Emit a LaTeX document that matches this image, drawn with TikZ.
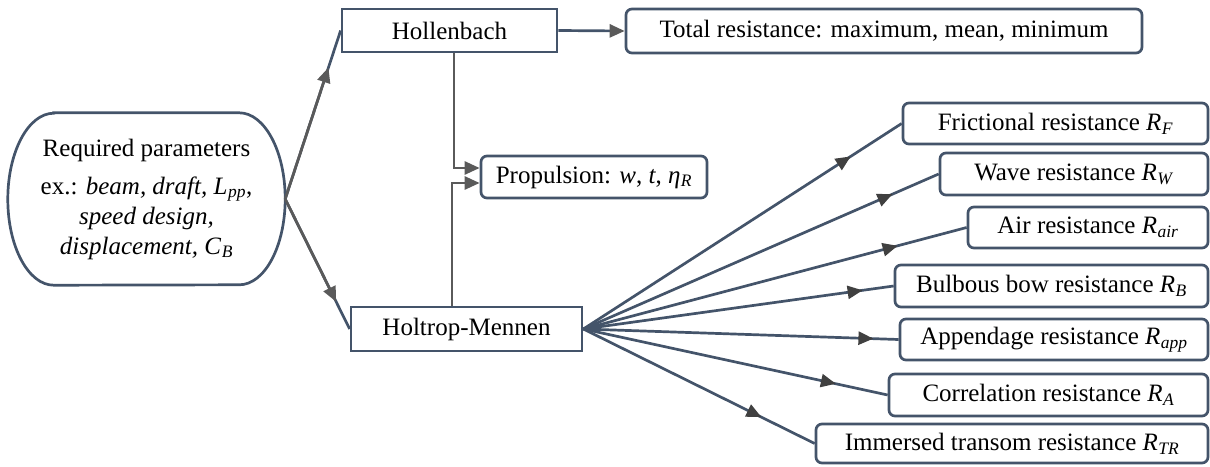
\documentclass[tikz,border=0pt]{standalone}
\usepackage{fontspec}
\setmainfont{Liberation Serif}
\usetikzlibrary{arrows.meta,decorations.markings,calc}
\definecolor{slate}{HTML}{44546A}
\definecolor{garrow}{HTML}{5A5A5A}
\definecolor{darrow}{HTML}{404040}
\newcommand{\mv}[2]{\textit{#1}\kern0.5pt\textsubscript{\textit{#2}}}
\begin{document}
\begin{tikzpicture}[x=1pt,y=-1pt,
 txt/.style={font=\fontsize{25}{30}\selectfont, inner sep=0pt, text=black},
 sharpbox/.style={txt, draw=slate, line width=2.7pt},
 rbox/.style={sharpbox, rounded corners=6pt},
 conn/.style={draw=slate, line width=2.7pt},
 gline/.style={draw=garrow, line width=2.7pt, -{Triangle[length=15pt,width=13pt]}},
 fan/.style={conn, postaction={decorate}, decoration={markings, mark=at position #1 with {\arrow{Triangle[length=15pt,width=13pt,color=darrow]}}}},
]
\useasboundingbox (0,0) rectangle (1210,466);

% left rounded node
\node[txt, minimum width=277pt, minimum height=172pt, align=center] (L) at (146.5,199)
 {Required parameters\\[8pt] ex.: \textit{beam, draft,} \mv{L}{pp},\\ \textit{speed design,}\\ \textit{displacement,} \mv{C}{B}};
\draw[conn] ([xshift=46pt]L.north west) -- ([xshift=-46pt]L.north east)
  arc[start angle=90,end angle=-90,x radius=46pt,y radius=86pt]
  -- ([xshift=46pt]L.south west)
  arc[start angle=270,end angle=90,x radius=46pt,y radius=86pt] -- cycle;

\node[sharpbox, minimum width=215pt, minimum height=43pt] (H) at (449.5,30.5) {Hollenbach};
\node[rbox, minimum width=516pt, minimum height=44pt] (T) at (884,31) {Total resistance: maximum, mean, minimum};
\node[rbox, minimum width=226pt, minimum height=42pt] (P) at (594,177) {Propulsion: \textit{w}, \textit{t}, \mv{η}{R}};
\node[sharpbox, minimum width=231pt, minimum height=44pt] (M) at (466.5,329) {Holtrop-Mennen};

\node[rbox, minimum width=305pt, minimum height=41pt] (F) at (1055.5,123.5) {Frictional resistance \mv{R}{F}};
\node[rbox, minimum width=268pt, minimum height=42pt] (W) at (1074,174) {Wave resistance \mv{R}{W}};
\node[rbox, minimum width=240pt, minimum height=41pt] (A1) at (1088,227.5) {Air resistance \mv{R}{air}};
\node[rbox, minimum width=313pt, minimum height=42pt] (B) at (1051.5,286) {Bulbous bow resistance \mv{R}{B}};
\node[rbox, minimum width=308pt, minimum height=41pt] (AP) at (1054,339.5) {Appendage resistance \mv{R}{app}};
\node[rbox, minimum width=319pt, minimum height=42pt] (CA) at (1048.5,395) {Correlation resistance \mv{R}{A}};
\node[rbox, minimum width=392pt, minimum height=39pt] (TR) at (1012,443.5) {Immersed transom resistance \mv{R}{TR}};

% connectors
\draw[conn] (L.east) -- (H.west);
\draw[gline] (L.east) -- ($(L.east)!0.78!(H.west)$);
\draw[conn] (L.east) -- (M.west);
\draw[gline] (L.east) -- ($(L.east)!0.79!(M.west)$);

\draw[conn, -{Triangle[length=15pt,width=13pt,color=garrow]}] (H.east) -- (T.west);

\draw[gline] ([xshift=4.5pt]H.south) |- ([yshift=9pt]P.west);
\draw[gline] ([xshift=-14.5pt]M.north) |- ([yshift=-6pt]P.west);

\draw[fan=0.84] (M.east) -- (F.west);
\draw[fan=0.87] (M.east) -- (W.west);
\draw[fan=0.82] (M.east) -- (A1.west);
\draw[fan=0.90] (M.east) -- (B.west);
\draw[fan=0.92] (M.east) -- (AP.west);
\draw[fan=0.83] (M.east) -- (CA.west);
\draw[fan=0.77] (M.east) -- (TR.west);
\end{tikzpicture}
\end{document}
